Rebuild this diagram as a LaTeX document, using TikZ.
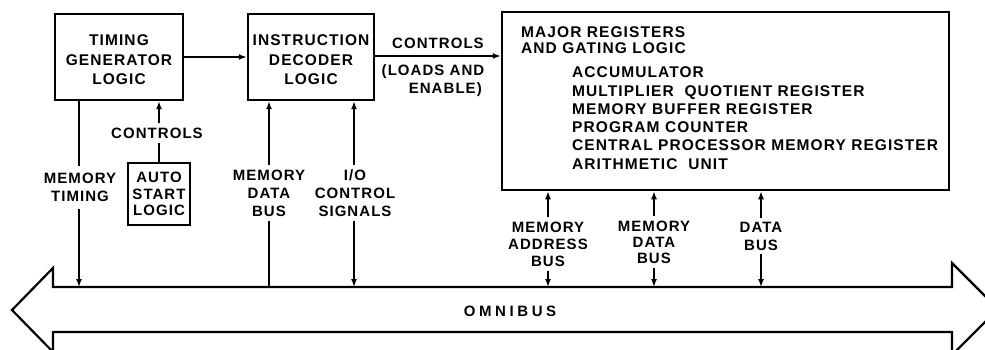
\documentclass[tikz,border=0pt]{standalone}
\usepackage{fontspec}
\setmainfont{Liberation Sans}[LetterSpace=7]
\newfontfamily\omnifont{Liberation Sans}[LetterSpace=24]
\usetikzlibrary{arrows.meta}
\tikzset{
  box/.style={draw, line width=2.5pt, inner sep=0pt},
  txt/.style={font=\bfseries\fontsize{15.5}{19.5}\selectfont, align=center, inner sep=3pt},
  lbl/.style={font=\bfseries\fontsize{15}{18}\selectfont, align=center, inner sep=4pt},
  reg/.style={font=\bfseries\fontsize{15.5}{18}\selectfont, anchor=base west, inner sep=0pt},
  conn/.style={line width=1.5pt},
  arr/.style={conn, -{Latex[length=8pt,width=6pt]}},
}
\begin{document}
\begin{tikzpicture}[x=1pt,y=-1pt]
\useasboundingbox (0,0) rectangle (985,350);
\clip (0,0) rectangle (985,350);
\fill[white] (0,0) rectangle (985,350);

% boxes
\node[box, minimum width=128pt, minimum height=86pt] (timing) at (119,57) {};
\node[txt] (timingt) at (119,60) {TIMING\\GENERATOR\\LOGIC};
\node[box, minimum width=126pt, minimum height=86pt] (instr) at (311,57) {};
\node[txt] (instrt) at (311,60) {INSTRUCTION\\DECODER\\LOGIC};
\node[box, minimum width=447pt, minimum height=178pt] (major) at (725.5,101) {};
\node[reg] (maj1) at (521,38) {MAJOR REGISTERS};
\node[reg] (maj2) at (521,54) {AND GATING LOGIC};
\node[reg] (reg1) at (572,78) {ACCUMULATOR};
\node[reg] (reg2) at (572,96.2) {MULTIPLIER\ \ QUOTIENT REGISTER};
\node[reg] (reg3) at (572,114.4) {MEMORY BUFFER REGISTER};
\node[reg] (reg4) at (572,132.6) {PROGRAM COUNTER};
\node[reg] (reg5) at (572,150.8) {CENTRAL PROCESSOR MEMORY REGISTER};
\node[reg] (reg6) at (572,169) {ARITHMETIC\ \ UNIT};
\node[box, minimum width=62pt, minimum height=62pt] (auto) at (159,194) {};
\node[txt, font=\bfseries\fontsize{15}{16.5}\selectfont] (autot) at (159,194) {AUTO\\START\\LOGIC};

% bus
\draw[line width=2.2pt, line join=miter] (12,310) -- (53,268) -- (53,287) -- (952,287) -- (952,263) -- (998,309) -- (952,355) -- (952,332) -- (53,332) -- (53,352) -- cycle;
\coordinate (bustop) at (0,287);
\node[font=\bfseries\omnifont\fontsize{15}{16}\selectfont] (omni) at (510,311) {OMNIBUS};

% top connectors
\draw[arr] (timing.east) -- (instr.west);
\draw[arr] ([yshift=1pt]instr.east) -- ([yshift=1pt]instr.east -| major.west);
\node[lbl] (ctl1) at (438,43) {CONTROLS};
\node[lbl, align=right] (ctl1b) at (433,81) {(LOADS AND\\ENABLE)\,};

% timing controls from auto start
\node[lbl] (ctl2) at (157,133) {CONTROLS};
\draw[arr] (auto.north |- ctl2.north) -- (auto.north |- timing.south);
\draw[conn] (auto.north) -- (auto.north |- ctl2.south);

% memory timing
\node[lbl] (mt) at (80,187) {MEMORY\\TIMING};
\draw[conn] (79,100) -- (79,166);
\draw[arr] (79,209) -- (79,287);

% memory data bus (left)
\node[lbl] (mdb) at (269,193) {MEMORY\\DATA\\BUS};
\draw[arr] (mdb.north) -- (mdb.north |- instr.south);
\draw[conn] (mdb.south |- bustop) -- (mdb.south);

% I/O control signals
\node[lbl] (io) at (355,193) {I/O\\CONTROL\\SIGNALS};
\draw[arr] ([xshift=-1pt]io.north) -- ([xshift=-1pt]io.north |- instr.south);
\draw[arr] ([xshift=-1pt]io.south) -- ([xshift=-1pt]io.south |- bustop);

% bottom labels
\node[lbl, font=\bfseries\fontsize{15}{17}\selectfont] (mab) at (548,244) {MEMORY\\ADDRESS\\BUS};
\draw[arr] (mab.north) -- (mab.north |- major.south);
\draw[arr] (mab.south) -- (mab.south |- bustop);

\node[lbl, font=\bfseries\fontsize{15}{16}\selectfont] (mdb2) at (654,242) {MEMORY\\DATA\\BUS};
\draw[arr] (mdb2.north) -- (mdb2.north |- major.south);
\draw[arr] (mdb2.south) -- (mdb2.south |- bustop);

\node[lbl] (db) at (761,236) {DATA\\BUS};
\draw[arr] (db.north) -- (db.north |- major.south);
\draw[arr] (db.south) -- (db.south |- bustop);
\end{tikzpicture}
\end{document}
